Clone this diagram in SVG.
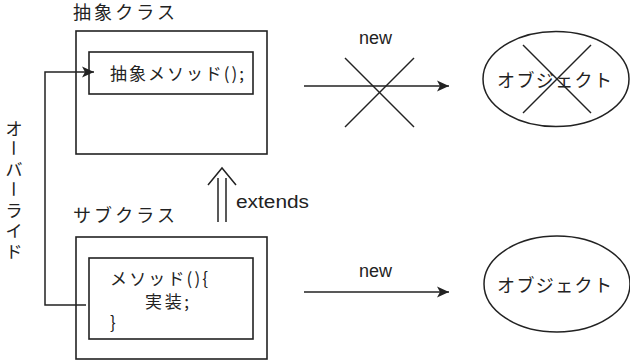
<svg xmlns="http://www.w3.org/2000/svg" width="630" height="364" viewBox="0 0 630 364">
<style>
.box{fill:none;stroke:#222;stroke-width:1.6}
.ln{fill:none;stroke:#222;stroke-width:1.5}
.t{font-family:"Noto Sans CJK JP","Liberation Sans",sans-serif;fill:#222}
.ttl{font-size:18px}
.lbl{font-size:17px}
.v{font-family:"Noto Sans CJK JP",sans-serif;font-size:17px;fill:#222;text-anchor:middle;dominant-baseline:central}
.lat{font-family:"Liberation Sans","Noto Sans CJK JP",sans-serif;font-size:18px;fill:#222}
</style>
<defs>
<marker id="arr" markerWidth="13" markerHeight="12" refX="12" refY="6" orient="auto" markerUnits="userSpaceOnUse">
<path d="M0,0.5 L12,6 L0,11.5 L3,6 z" fill="#222"/>
</marker>
</defs>
<rect width="630" height="364" fill="#fff"/>

<g id="abstract-class">
<text class="t ttl" x="73" y="19" textLength="102" lengthAdjust="spacing">抽象クラス</text>
<rect class="box" x="76" y="31" width="191" height="123"/>
<rect class="box" x="89" y="52" width="164" height="42"/>
<text class="t lbl" x="110" y="80" textLength="134" lengthAdjust="spacing">抽象メソッド();</text>
</g>

<g id="sub-class">
<text class="t ttl" x="73" y="222" textLength="102" lengthAdjust="spacing">サブクラス</text>
<rect class="box" x="76" y="237" width="191" height="122"/>
<rect class="box" x="89" y="258" width="164" height="81"/>
<text class="t lbl" x="110" y="285" textLength="98" lengthAdjust="spacing">メソッド(){</text>
<text class="t lbl" x="145" y="308" textLength="44" lengthAdjust="spacing">実装;</text>
<text class="t lbl" x="110" y="329">}</text>
</g>

<g id="object-x">
<ellipse class="ln" cx="556" cy="79" rx="73" ry="47.5"/>
<text class="t ttl" x="497" y="87" textLength="115" lengthAdjust="spacing">オブジェクト</text>
<line class="ln" x1="523" y1="45" x2="591" y2="113"/>
<line class="ln" x1="591" y1="45" x2="523" y2="113"/>
</g>

<g id="object">
<ellipse class="ln" cx="557" cy="284" rx="73" ry="48"/>
<text class="t ttl" x="497" y="292" textLength="115" lengthAdjust="spacing">オブジェクト</text>
</g>

<g id="override-label">
<text class="v" x="14" y="127">オ</text>
<text class="v" x="14" y="148" transform="rotate(90 14 148)">ー</text>
<text class="v" x="14" y="168">バ</text>
<text class="v" x="14" y="189" transform="rotate(90 14 189)">ー</text>
<text class="v" x="14" y="209">ラ</text>
<text class="v" x="14" y="229">イ</text>
<text class="v" x="14" y="250">ド</text>
</g>

<g id="connectors">
<polyline class="ln" points="86,305 45,305 45,72 94,72" marker-end="url(#arr)"/>
<line class="ln" x1="304" y1="86" x2="449" y2="86" marker-end="url(#arr)"/>
<line class="ln" x1="345" y1="58" x2="414" y2="127"/>
<line class="ln" x1="414" y1="58" x2="345" y2="127"/>
<text class="lat" x="359" y="44" textLength="33" lengthAdjust="spacingAndGlyphs">new</text>
<line class="ln" x1="304" y1="292" x2="449" y2="292" marker-end="url(#arr)"/>
<text class="lat" x="359" y="277" textLength="33" lengthAdjust="spacingAndGlyphs">new</text>
<line class="ln" x1="218" y1="178" x2="218" y2="222"/>
<line class="ln" x1="226" y1="178" x2="226" y2="222"/>
<polyline class="ln" points="208,185 222,168 236,185"/>
<text class="lat" x="236" y="208" textLength="73" lengthAdjust="spacingAndGlyphs">extends</text>
</g>
</svg>
